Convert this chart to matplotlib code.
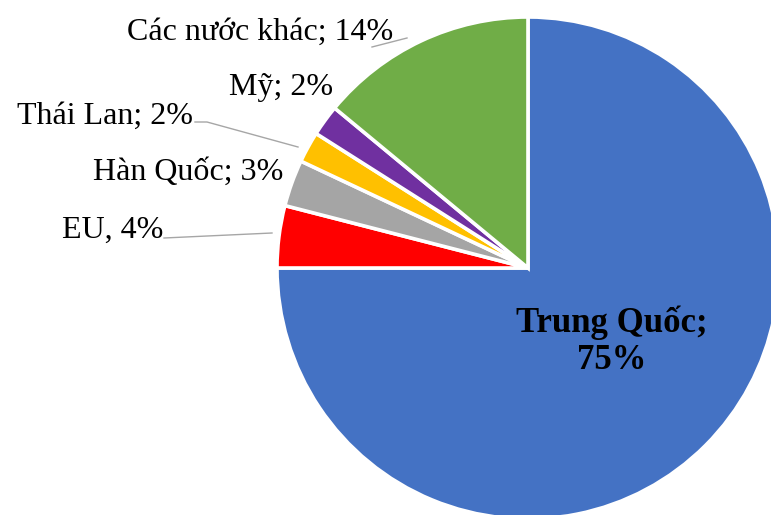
import matplotlib
matplotlib.use("Agg")
import matplotlib.pyplot as plt

plt.rcParams['font.family'] = ['Liberation Serif', 'DejaVu Serif']

# share of each market, clockwise from 12 o'clock
labels = ["Trung Quốc", "EU", "Hàn Quốc", "Thái Lan", "Mỹ", "Các nước khác"]
values = [75, 4, 3, 2, 2, 14]
colors = ["#4472C4", "#FF0000", "#A5A5A5", "#FFC000", "#7030A0", "#70AD47"]

W, H = 771, 515
cx, cy, r = 528, 268, 251   # pie centre / radius in pixels

fig = plt.figure(figsize=(W / 100, H / 100), dpi=100)
ax = fig.add_axes([(cx - r) / W, (H - cy - r) / H, 2 * r / W, 2 * r / H])
ax.pie(values, colors=colors, startangle=90, counterclock=False, radius=1,
       wedgeprops=dict(edgecolor="white", linewidth=2.6))
ax.set_xlim(-1, 1)
ax.set_ylim(-1, 1)
ax.set_aspect("equal")
ax.axis("off")


def px(x, y):
    return (x - cx) / r, (cy - y) / r


fs = 23
ax.text(*px(393, 32), "Các nước khác; 14%", ha="right", va="center", fontsize=fs)
ax.text(*px(333, 88), "Mỹ; 2%", ha="right", va="center", fontsize=fs)
ax.text(*px(193, 116), "Thái Lan; 2%", ha="right", va="center", fontsize=fs)
ax.text(*px(283, 172), "Hàn Quốc; 3%", ha="right", va="center", fontsize=fs)
ax.text(*px(163, 230), "EU, 4%", ha="right", va="center", fontsize=fs)
ax.text(*px(612, 341), "Trung Quốc;\n75%", ha="center", va="center",
        fontsize=25, fontweight="bold", linespacing=1.15)

# leader lines
leaders = [
    [(372, 47), (407, 38)],
    [(195, 122), (207, 122), (298, 147)],
    [(164, 238), (272, 233)],
]
for pts in leaders:
    xs, ys = zip(*[px(x, y) for x, y in pts])
    ax.plot(xs, ys, color="#A6A6A6", linewidth=1.0, clip_on=False)

fig.savefig("out.png", dpi=100)
